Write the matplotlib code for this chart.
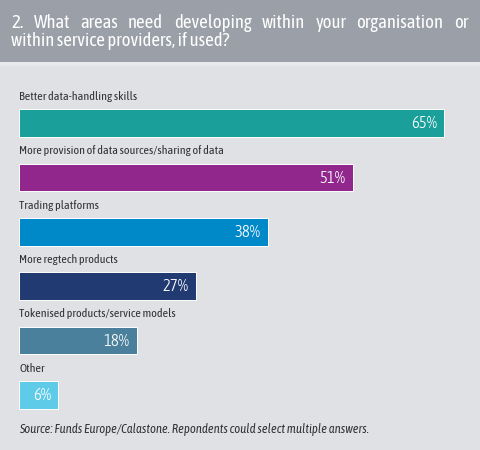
import matplotlib
matplotlib.use("Agg")
import matplotlib.pyplot as plt
from matplotlib import font_manager
from matplotlib.patches import Rectangle

categories = [
    "Better data-handling skills",
    "More provision of data sources/sharing of data",
    "Trading platforms",
    "More regtech products",
    "Tokenised products/service models",
    "Other",
]
values = [65, 51, 38, 27, 18, 6]
value_labels = ["65%", "51%", "38%", "27%", "18%", "6%"]
colors = ["#1a9f9a", "#91278d", "#0089c9", "#213a72", "#4a809b", "#5ecbe8"]
title_lines = ["2. What areas need developing within your organisation or",
               "within service providers, if used?"]
source = "Source: Funds Europe/Calastone. Repondents could select multiple answers."

names = {f.name for f in font_manager.fontManager.ttflist}
def pick(*cands):
    for c in cands:
        if c in names:
            return c
    return "DejaVu Sans"
FONT = pick("Asap Condensed", "Signika", "Liberation Sans Narrow", "Roboto")

W, H = 480, 450
fig = plt.figure(figsize=(W / 100, H / 100), dpi=100)
fig.patch.set_facecolor("#e0e1e5")
renderer = fig.canvas.get_renderer()

def width(txt, fs, **kw):
    t = fig.text(0, 0, txt, fontsize=fs, **kw)
    w = t.get_window_extent(renderer).width
    t.remove()
    return w

def fit(txt, target_px, **kw):
    return 10 * target_px / width(txt, 10, **kw)

# header band
fig.patches.append(Rectangle((0, 1 - 62 / H), 1, 62 / H, transform=fig.transFigure,
                             facecolor="#9b9fa7", edgecolor="none", zorder=0))
fig.patches.append(Rectangle((0, 1 - 66 / H), 1, 4 / H, transform=fig.transFigure,
                             facecolor="#e8e9ec", edgecolor="none", zorder=0))

tkw = dict(family=FONT, weight=400, color="white")
tfs = 0.92 * fit(title_lines[1], 239, **tkw)
words = title_lines[0].split(" ")
ww = [width(w_, tfs, **tkw) for w_ in words]
gap = (457 - sum(ww)) / (len(words) - 1)
x = 11
for w_, wpx in zip(words, ww):
    fig.text(x / W, 1 - 28 / H, w_, fontsize=tfs, ha="left", va="baseline", **tkw)
    x += wpx + gap
fig.text(11 / W, 1 - 46.5 / H, title_lines[1], fontsize=tfs, ha="left", va="baseline", **tkw)

ax = fig.add_axes([0, 0, 1, 1])
ax.set_facecolor("none")
px_per_pct = 6.54
left_px = 19
ax.set_xlim(-left_px / px_per_pct, (W - left_px) / px_per_pct)
ax.set_ylim(H, 0)
ax.axis("off")

first_center = 123
step = 54.4
bar_h = 27.5
ys = [first_center + i * step for i in range(len(values))]

ax.barh(ys, values, height=bar_h, left=0, color=colors, edgecolor="white", linewidth=0.7)

lkw = dict(family=FONT, weight=400, color="#333335")
lfs = 0.95 * fit(categories[0], 124, **lkw)
vkw = dict(family=FONT, weight=300, color="white")
vfs = fit(value_labels[0], 26, **vkw)
for y, cat, v, lab in zip(ys, categories, values, value_labels):
    ax.text(0, y - bar_h / 2 - 9.5, cat, fontsize=lfs, ha="left", va="baseline", **lkw)
    ax.annotate(lab, (v, y), xytext=(-5, -0.5), textcoords="offset points", ha="right",
                va="center", fontsize=vfs, **vkw)

skw = dict(family=FONT, style="italic", weight=400, color="#333335")
sfs = 0.97 * fit(source, 361, **skw)
ax.text(0, 433, source, fontsize=sfs, ha="left", va="baseline", **skw)

fig.savefig("out.png", dpi=100, facecolor=fig.get_facecolor())
